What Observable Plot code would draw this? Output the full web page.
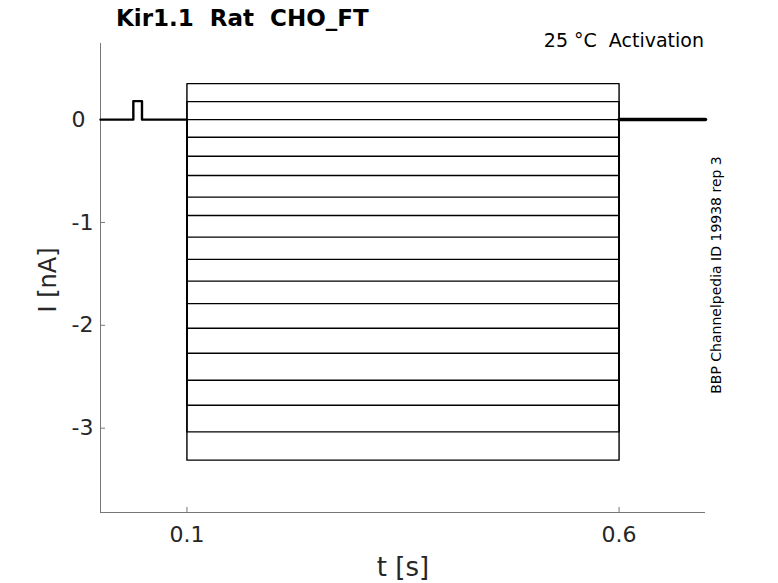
<!DOCTYPE html>
<html>
<head>
<meta charset="utf-8">
<script src="https://cdn.jsdelivr.net/npm/d3@7"></script>
<script src="https://cdn.jsdelivr.net/npm/@observablehq/plot@0.6"></script>
<style>
  html, body { margin: 0; padding: 0; background: #fff; }
  svg { display: block; }
</style>
</head>
<body>
<div id="chart"></div>
<script>
// Step levels (nA) of the 18 sweeps during the 0.1–0.6 s activation pulse
const levels = [0.35, 0.175, 0.0, -0.172, -0.356, -0.544, -0.754, -0.932, -1.143,
                -1.359, -1.570, -1.789, -2.029, -2.272, -2.534, -2.777, -3.036, -3.311];
// Stimulus timing (s)
const stepStart = 0.1;
const stepEnd = 0.6;
const tStart = 0.0;
const tEnd = 0.7;
// Small test pulse before the step
const pulseStart = 0.038;
const pulseEnd = 0.048;
const pulseAmp = 0.18;
// Axis ticks
const xTicks = [0.1, 0.6];
const yTicks = [0, -1, -2, -3];
const xDomain = [0, 0.7];
const yDomain = [-3.82, 0.74];

// Build line data
const stepRows = [];
levels.forEach((v, i) => {
  stepRows.push({sweep: i, t: stepStart, i: 0});
  stepRows.push({sweep: i, t: stepStart, i: v});
  stepRows.push({sweep: i, t: stepEnd, i: v});
  stepRows.push({sweep: i, t: stepEnd, i: 0});
});
const preRows = [
  {t: tStart, i: 0}, {t: pulseStart, i: 0}, {t: pulseStart, i: pulseAmp},
  {t: pulseEnd, i: pulseAmp}, {t: pulseEnd, i: 0}, {t: stepStart, i: 0}
];
const postRows = [{t: stepEnd, i: 0}, {t: tEnd, i: 0}];

const W = 778, H = 583;
const svg = Plot.plot({
  width: W,
  height: H,
  marginLeft: 100,
  marginRight: 73,
  marginTop: 43,
  marginBottom: 71,
  style: {fontFamily: "DejaVu Sans", background: "#fff", overflow: "visible"},
  x: {domain: xDomain},
  y: {domain: yDomain},
  marks: [
    Plot.ruleX([xDomain[0]], {y1: yDomain[0], y2: yDomain[1], stroke: "#777", strokeWidth: 1}),
    Plot.ruleY([yDomain[0]], {x1: xDomain[0], x2: xDomain[1], stroke: "#777", strokeWidth: 1}),
    Plot.axisX({ticks: xTicks, tickFormat: d => String(d), tickSize: -5, tickPadding: 19,
                stroke: "#777", fill: "#262626", fontSize: 22, label: null}),
    Plot.axisY({ticks: yTicks, tickFormat: d => String(d), tickSize: -5, tickPadding: 34,
                textAnchor: "start",
                stroke: "#777", fill: "#262626", fontSize: 22, label: null}),
    Plot.line(preRows, {x: "t", y: "i", stroke: "black", strokeWidth: 2.4}),
    Plot.line(postRows, {x: "t", y: "i", stroke: "black", strokeWidth: 3.5}),
    Plot.line(stepRows, {x: "t", y: "i", z: "sweep", stroke: "black", strokeWidth: 1.4})
  ]
});

const s = d3.select(svg);
s.append("text").attr("x", 116).attr("y", 26).attr("text-anchor", "start")
  .attr("font-family", "DejaVu Sans").attr("font-weight", "bold").attr("font-size", 23)
  .attr("fill", "black").style("white-space", "pre").text("Kir1.1  Rat  CHO_FT");
s.append("text").attr("x", 704).attr("y", 47).attr("text-anchor", "end")
  .attr("font-family", "DejaVu Sans").attr("font-size", 19)
  .attr("fill", "black").style("white-space", "pre").text("25 °C  Activation");
s.append("text").attr("transform", "translate(721,275) rotate(-90)").attr("text-anchor", "middle")
  .attr("font-family", "DejaVu Sans").attr("font-size", 14)
  .attr("fill", "black").text("BBP Channelpedia ID 19938 rep 3");
s.append("text").attr("x", 403).attr("y", 576).attr("text-anchor", "middle")
  .attr("font-family", "DejaVu Sans").attr("font-size", 26)
  .attr("fill", "#262626").text("t [s]");
s.append("text").attr("transform", "translate(56,280) rotate(-90)").attr("text-anchor", "middle")
  .attr("font-family", "DejaVu Sans").attr("font-size", 24)
  .attr("fill", "#262626").text("I [nA]");

document.getElementById("chart").appendChild(svg);
</script>
</body>
</html>
